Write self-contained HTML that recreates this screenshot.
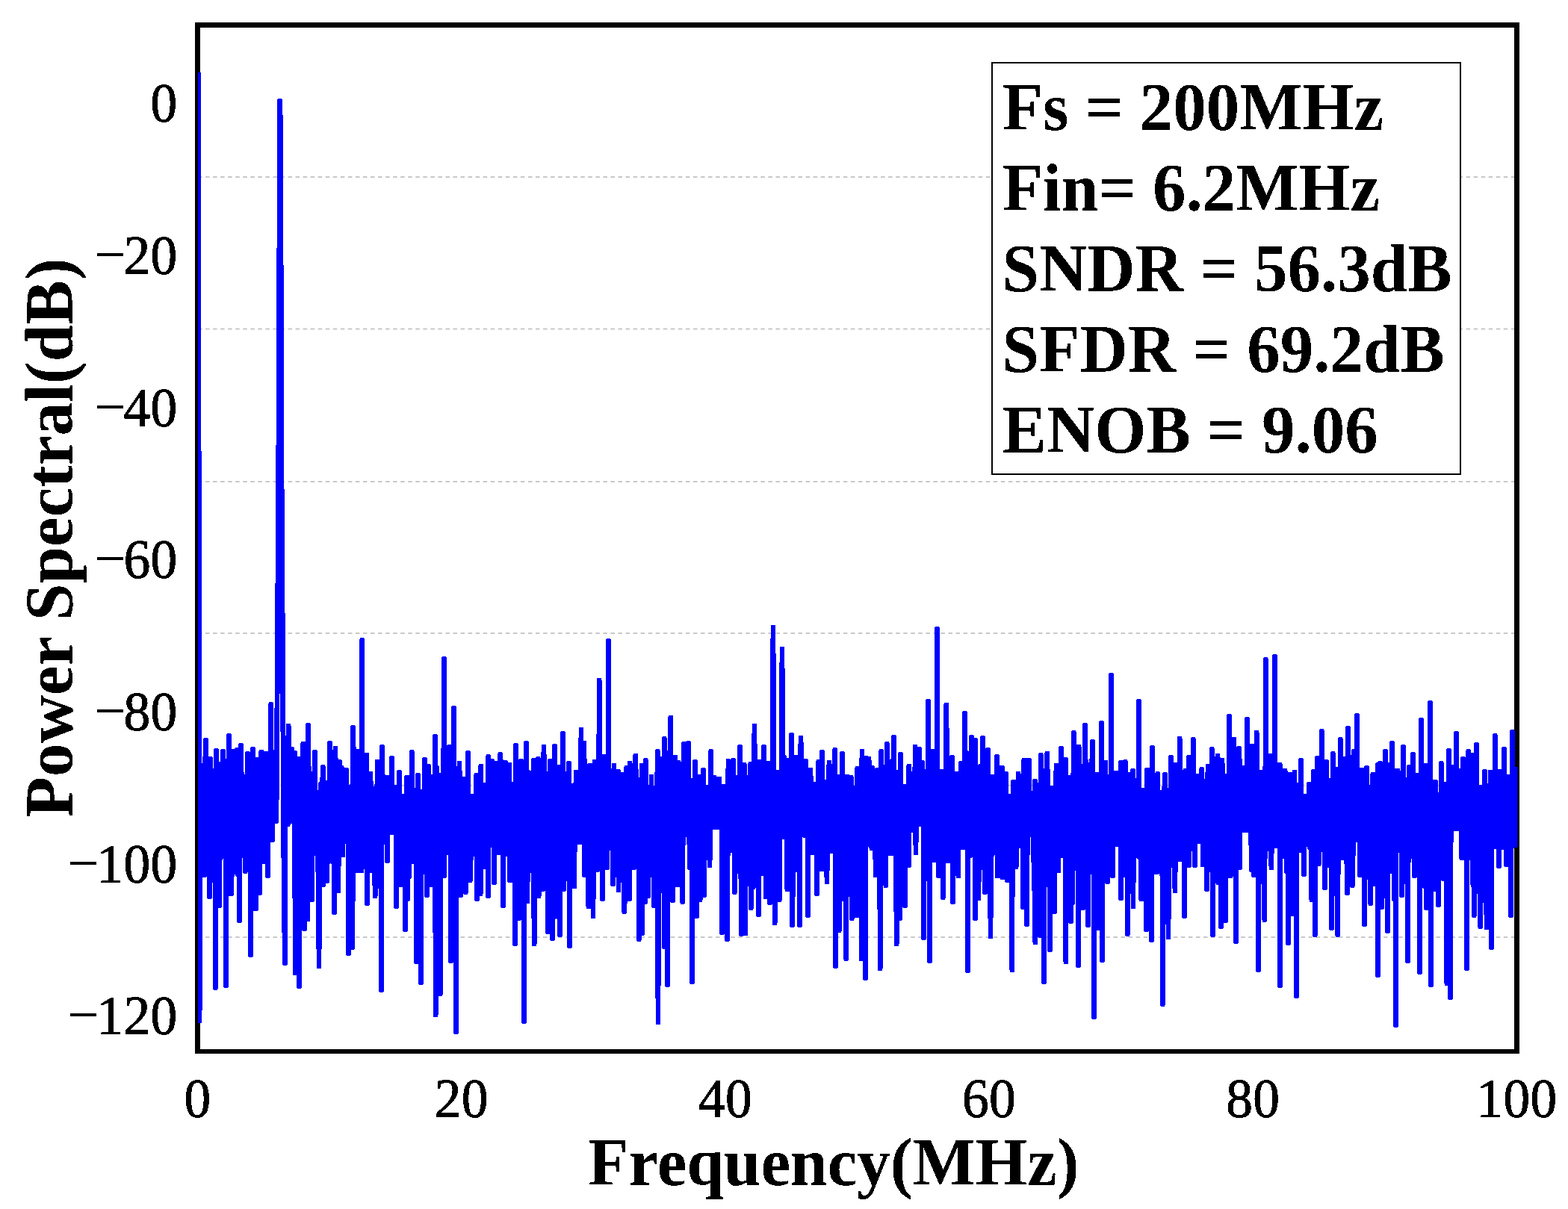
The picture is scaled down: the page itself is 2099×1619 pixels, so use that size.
<!DOCTYPE html>
<html lang="en"><head><meta charset="utf-8"><title>Power Spectral</title>
<style>html,body{margin:0;padding:0;background:#fff}svg{display:block}.b{font-family:"Liberation Serif",serif;font-weight:bold;font-size:89.2px;fill:#000}.t{font-family:"Liberation Serif",serif;font-size:71.5px;fill:#000;stroke:#000;stroke-width:1.0}</style></head><body>
<svg width="2099" height="1619" viewBox="0 0 2099 1619">
<rect width="2099" height="1619" fill="#fff"/>
<defs><clipPath id="ax"><rect x="265" y="33.5" width="1766.3" height="1374.5"/></clipPath><filter id="bin" x="-5%" y="-20%" width="110%" height="140%" color-interpolation-filters="sRGB"><feComponentTransfer><feFuncA type="discrete" tableValues="0 1"/></feComponentTransfer></filter></defs>
<g stroke="#c8c8c8" stroke-width="1.9" stroke-dasharray="5.55 4.495">
<line x1="264.95" x2="2030" y1="237" y2="237"/>
<line x1="264.95" x2="2030" y1="440.5" y2="440.5"/>
<line x1="264.95" x2="2030" y1="645" y2="645"/>
<line x1="264.95" x2="2030" y1="848" y2="848"/>
<line x1="264.95" x2="2030" y1="1051.7" y2="1051.7"/>
<line x1="264.95" x2="2030" y1="1255" y2="1255"/>
</g>
<g fill="#000" shape-rendering="crispEdges"><rect x="261" y="30" width="7" height="1381"/><rect x="2027" y="30" width="7" height="1381"/><rect x="261" y="30" width="1773" height="7"/><rect x="261" y="1405" width="1773" height="6"/></g>
<polyline clip-path="url(#ax)" fill="none" stroke="#0000ff" stroke-width="6.90" stroke-linejoin="round" stroke-linecap="butt" shape-rendering="crispEdges" points="265.3,97 266.2,700 267.0,1367 267.6,1250 267.9,1180 267.9,1113 268.4,1078 268.8,1056 269.2,1040 269.7,1094 270.1,1129 270.5,1110 271.0,1025 271.4,1125 271.8,1084 272.3,1025 272.7,1129 273.1,1066 273.6,1172 274.0,1121 274.4,1072 274.8,1025 275.3,991 275.7,1075 276.1,1047 276.6,1057 277.0,1082 277.4,1127 277.9,1079 278.3,1096 278.7,1081 279.2,1097 279.6,1035 280.0,1045 280.5,1201 280.9,1069 281.3,1016 281.7,1084 282.2,1099 282.6,1059 283.0,1096 283.5,1083 283.9,1051 284.3,1090 284.8,1032 285.2,1133 285.6,1049 286.1,1088 286.5,1088 286.9,1062 287.4,1075 287.8,1089 288.2,1323 288.6,1165 289.1,1052 289.5,1005 289.9,1054 290.4,1023 290.8,1056 291.2,1190 291.7,1106 292.1,1067 292.5,1120 293.0,1023 293.4,1213 293.8,1034 294.2,1082 294.7,1035 295.1,1149 295.5,1106 296.0,1083 296.4,1048 296.8,1080 297.3,1147 297.7,1100 298.1,1103 298.6,1006 299.0,1137 299.4,1089 299.9,1085 300.3,1044 300.7,1041 301.1,1075 301.6,1083 302.0,1044 302.4,1320 302.9,1057 303.3,1041 303.7,1019 304.2,1197 304.6,1029 305.0,1112 305.5,1081 305.9,1041 306.3,985 306.8,1143 307.2,1059 307.6,1178 308.0,1098 308.5,1039 308.9,1088 309.3,1066 309.8,1197 310.2,1038 310.6,1046 311.1,1171 311.5,1089 311.9,1083 312.4,1006 312.8,1073 313.2,1065 313.7,1037 314.1,1016 314.5,1150 314.9,1121 315.4,1059 315.8,1148 316.2,1123 316.7,1069 317.1,1136 317.5,1004 318.0,1032 318.4,1171 318.8,1074 319.3,1041 319.7,1004 320.1,1112 320.5,1233 321.0,1029 321.4,1023 321.8,1129 322.3,998 322.7,1051 323.1,1034 323.6,1137 324.0,1058 324.4,1040 324.9,1072 325.3,1138 325.7,1146 326.2,1111 326.6,1040 327.0,1146 327.4,1146 327.9,1097 328.3,1167 328.7,1142 329.2,1148 329.6,1075 330.0,1054 330.5,1088 330.9,1147 331.3,1009 331.8,1067 332.2,1031 332.6,1031 333.1,1119 333.5,1148 333.9,1036 334.3,1031 334.8,1083 335.2,1045 335.6,1279 336.1,1065 336.5,1031 336.9,1217 337.4,1113 337.8,1112 338.2,1153 338.7,1003 339.1,1216 339.5,1057 340.0,1177 340.4,1097 340.8,1089 341.2,1133 341.7,1075 342.1,1074 342.5,1217 343.0,1049 343.4,1139 343.8,1017 344.3,1098 344.7,1095 345.1,1127 345.6,1021 346.0,1037 346.4,1158 346.9,1096 347.3,1121 347.7,1196 348.1,1112 348.6,1078 349.0,1020 349.4,1094 349.9,1007 350.3,1066 350.7,1047 351.2,1154 351.6,1048 352.0,1014 352.5,1154 352.9,1110 353.3,1057 353.7,1052 354.2,1059 354.6,1143 355.0,1009 355.5,1012 355.9,1009 356.3,1066 356.8,1154 357.2,1009 357.6,1038 358.1,1061 358.5,1173 358.9,1125 359.4,1106 359.8,1118 360.2,1066 360.6,1125 361.1,1026 361.5,1083 361.9,1085 362.4,1125 362.8,943 363.2,1038 363.7,1062 364.1,1119 364.5,1125 365.0,1100 365.4,1037 365.8,1068 366.3,1100 366.7,1076 367.1,1068 367.5,1100 368.0,1068 368.4,1089 368.8,1068 369.3,1068 369.7,1100 370.1,1068 370.3,1063 371.2,907 372.0,775 372.9,615 373.8,385 374.6,135 375.5,172 376.4,465 377.2,695 378.6,900 379.5,1100 380.4,1195 381.4,1290 381.8,1104 381.9,1200 382.2,1007 382.6,1091 383.1,1104 383.5,1104 383.9,1025 384.4,1104 384.8,1044 385.2,1104 385.7,1010 386.1,972 386.5,1100 386.9,1018 387.4,1098 387.8,1050 388.2,1075 388.7,1100 389.1,1100 389.5,1100 390.0,1100 390.4,1003 390.8,1100 391.3,1014 391.7,1100 392.1,1077 392.6,1100 393.0,1100 393.4,1046 393.8,1017 394.3,1082 394.7,1008 395.1,1303 395.6,1195 396.0,1093 396.4,1073 396.9,1027 397.3,1038 397.7,1065 398.2,1092 398.6,1036 399.0,1030 399.5,1030 399.9,1016 400.3,1162 400.7,1321 401.2,1080 401.6,1077 402.0,1036 402.5,1119 402.9,1058 403.3,1095 403.8,1044 404.2,1129 404.6,1081 405.1,1160 405.5,1125 405.9,996 406.3,1105 406.8,1026 407.2,1075 407.6,1244 408.1,1042 408.5,1191 408.9,1037 409.4,1231 409.8,1057 410.2,1137 410.7,1100 411.1,1013 411.5,1080 412.0,1231 412.4,971 412.8,1157 413.2,1035 413.7,1028 414.1,1141 414.5,1072 415.0,1110 415.4,1049 415.8,1205 416.3,1076 416.7,1042 417.1,1049 417.6,1205 418.0,1036 418.4,1119 418.9,1040 419.3,1078 419.7,1139 420.1,1049 420.6,1040 421.0,1054 421.4,1007 421.9,1116 422.3,1120 422.7,1143 423.2,1073 423.6,1092 424.0,1098 424.5,1083 424.9,1112 425.3,1166 425.8,1082 426.2,1112 426.6,1085 427.0,1294 427.5,1134 427.9,1061 428.3,1060 428.8,1111 429.2,1082 429.6,1050 430.1,1100 430.5,1052 430.9,1050 431.4,1097 431.8,1050 432.2,1027 432.6,1185 433.1,1052 433.5,1088 433.9,1052 434.4,1112 434.8,1048 435.2,1073 435.7,1119 436.1,1086 436.5,1048 437.0,1048 437.4,1180 437.8,1099 438.3,1095 438.7,1048 439.1,1154 439.5,1048 440.0,1048 440.4,1122 440.8,1099 441.3,995 441.7,1040 442.1,1018 442.6,1018 443.0,1111 443.4,1130 443.9,1080 444.3,1071 444.7,1059 445.2,1154 445.6,1060 446.0,1021 446.4,1022 446.9,1018 447.3,1222 447.7,1018 448.2,1193 448.6,1022 449.0,1002 449.5,1104 449.9,1083 450.3,1020 450.8,1065 451.2,1099 451.6,1095 452.1,1024 452.5,1038 452.9,1193 453.3,1117 453.8,1096 454.2,1124 454.6,1020 455.1,1123 455.5,1069 455.9,1028 456.4,1034 456.8,1145 457.2,1028 457.7,1090 458.1,1060 458.5,1094 458.9,1145 459.4,1100 459.8,1121 460.2,1032 460.7,1054 461.1,1090 461.5,1054 462.0,1076 462.4,1075 462.8,1096 463.3,1080 463.7,1031 464.1,1054 464.6,1054 465.0,1121 465.4,1078 465.8,1096 466.3,1121 466.7,1277 467.1,1175 467.6,1120 468.0,1054 468.4,1055 468.9,1054 469.3,1172 469.7,1138 470.2,1231 470.6,1163 471.0,1161 471.5,1054 471.9,1269 472.3,1127 472.7,974 473.2,1010 473.6,1069 474.0,1096 474.5,1082 474.9,1113 475.3,1068 475.8,1051 476.2,1076 476.6,1038 477.1,1156 477.5,1065 477.9,1006 478.4,1143 478.8,1166 479.2,1062 479.6,1101 480.1,1008 480.5,1080 480.9,1081 481.4,1024 481.8,1166 482.2,1031 482.7,1149 483.1,1095 483.5,1080 484.0,1166 484.4,1151 484.8,857 485.2,1098 485.7,1011 486.1,1022 486.5,1068 487.0,1018 487.4,1031 487.8,1095 488.3,1151 488.7,1065 489.1,1103 489.6,1151 490.0,1011 490.4,1011 490.9,1011 491.3,1210 491.7,1057 492.1,1036 492.6,1082 493.0,1068 493.4,1122 493.9,1119 494.3,1075 494.7,1121 495.2,1166 495.6,1096 496.0,1036 496.5,1112 496.9,1056 497.3,1056 497.8,1059 498.2,1056 498.6,1166 499.0,1134 499.5,1056 499.9,1056 500.3,1166 500.8,1056 501.2,1166 501.6,1147 502.1,1200 502.5,1109 502.9,1093 503.4,1056 503.8,1086 504.2,1151 504.7,1113 505.1,1020 505.5,1178 505.9,1087 506.4,1077 506.8,1117 507.2,1095 507.7,1160 508.1,1059 508.5,1093 509.0,1139 509.4,1078 509.8,1126 510.3,1326 510.7,1128 511.1,1043 511.6,1000 512.0,1041 512.4,1091 512.8,1128 513.3,1053 513.7,1049 514.1,1041 514.6,1128 515.0,1042 515.4,1041 515.9,1107 516.3,1084 516.7,1063 517.2,1118 517.6,1041 518.0,1041 518.4,1153 518.9,1085 519.3,1076 519.7,1115 520.2,1105 520.6,1050 521.0,1041 521.5,1115 521.9,1115 522.3,1115 522.8,1087 523.2,1042 523.6,1115 524.1,1081 524.5,1015 524.9,1054 525.3,1115 525.8,1115 526.2,1077 526.6,1098 527.1,1109 527.5,1054 527.9,1056 528.4,1115 528.8,1072 529.2,1054 529.7,1054 530.1,1115 530.5,1214 531.0,1185 531.4,1056 531.8,1066 532.2,1054 532.7,1062 533.1,1178 533.5,1057 534.0,1116 534.4,1034 534.8,1185 535.3,1103 535.7,1066 536.1,1140 536.6,1185 537.0,1066 537.4,1066 537.9,1066 538.3,1090 538.7,1145 539.1,1115 539.6,1093 540.0,1185 540.4,1066 540.9,1183 541.3,1185 541.7,1066 542.2,1066 542.6,1245 543.0,1100 543.5,1066 543.9,1066 544.3,1114 544.7,1041 545.2,1041 545.6,1204 546.0,1041 546.5,1070 546.9,1133 547.3,1041 547.8,1174 548.2,1090 548.6,1069 549.1,1118 549.5,1041 549.9,1054 550.4,1139 550.8,1141 551.2,1007 551.6,1069 552.1,1131 552.5,1073 552.9,1058 553.4,1058 553.8,1154 554.2,1102 554.7,1089 555.1,1094 555.5,1089 556.0,1083 556.4,1058 556.8,1106 557.3,1100 557.7,1288 558.1,1142 558.5,1062 559.0,1092 559.4,1038 559.8,1060 560.3,1121 560.7,1119 561.1,1060 561.6,1071 562.0,1264 562.4,1062 562.9,1092 563.3,1060 563.7,1316 564.2,1060 564.6,1060 565.0,1060 565.4,1110 565.9,1101 566.3,1168 566.7,1060 567.2,1141 567.6,1072 568.0,1077 568.5,1017 568.9,1093 569.3,1145 569.8,1094 570.2,1168 570.6,1107 571.0,1062 571.5,1199 571.9,1026 572.3,1074 572.8,1107 573.2,1036 573.6,1026 574.1,1104 574.5,1040 574.9,1119 575.4,1050 575.8,1171 576.2,1185 576.7,1059 577.1,1126 577.5,1103 577.9,1072 578.4,1067 578.8,1141 579.2,1090 579.7,1040 580.1,1104 580.5,1043 581.0,1128 581.4,1083 581.8,1076 582.3,986 582.7,1051 583.1,1359 583.6,1054 584.0,1040 584.4,1028 584.8,1103 585.3,1037 585.7,1076 586.1,1115 586.6,1135 587.0,1046 587.4,1061 587.9,1177 588.3,1067 588.7,1198 589.2,1331 589.6,1069 590.0,1060 590.5,1140 590.9,1173 591.3,1069 591.7,1038 592.2,1041 592.6,1098 593.0,1069 593.5,1051 593.9,1030 594.3,882 594.8,1173 595.2,1104 595.6,1124 596.1,1108 596.5,1050 596.9,1028 597.3,1082 597.8,1054 598.2,1142 598.6,1077 599.1,1087 599.5,1087 599.9,1131 600.4,1063 600.8,1057 601.2,1000 601.7,1048 602.1,1084 602.5,1033 603.0,1069 603.4,1287 603.8,1090 604.2,1054 604.7,1129 605.1,1170 605.5,1018 606.0,1096 606.4,1197 606.8,1063 607.3,948 607.7,1045 608.1,1039 608.6,1039 609.0,1084 609.4,1120 609.9,1181 610.3,1382 610.7,1062 611.1,1039 611.6,1199 612.0,1039 612.4,1046 612.9,1055 613.3,1150 613.7,1190 614.2,1049 614.6,1061 615.0,1022 615.5,1100 615.9,1199 616.3,1043 616.8,1199 617.2,1043 617.6,1043 618.0,1083 618.5,1043 618.9,1129 619.3,1057 619.8,1120 620.2,1093 620.6,1043 621.1,1088 621.5,1043 621.9,1066 622.4,1109 622.8,1115 623.2,1195 623.6,1069 624.1,1043 624.5,1122 624.9,1081 625.4,1043 625.8,1093 626.2,1043 626.7,1008 627.1,1079 627.5,1066 628.0,1179 628.4,1076 628.8,1066 629.3,1179 629.7,1152 630.1,1152 630.5,1139 631.0,1120 631.4,1066 631.8,1083 632.3,1074 632.7,1105 633.1,1108 633.6,1071 634.0,1066 634.4,1133 634.9,1087 635.3,1066 635.7,1066 636.2,1113 636.6,1093 637.0,1069 637.4,1145 637.9,1038 638.3,1204 638.7,1112 639.2,1081 639.6,1154 640.0,1076 640.5,1038 640.9,1073 641.3,1125 641.8,1106 642.2,1063 642.6,1038 643.1,1197 643.5,1079 643.9,1026 644.3,1159 644.8,1051 645.2,1083 645.6,1102 646.1,1051 646.5,1116 646.9,1143 647.4,1115 647.8,1057 648.2,1161 648.7,1084 649.1,1120 649.5,1072 650.0,1146 650.4,1051 650.8,1051 651.2,1104 651.7,1098 652.1,1066 652.5,1051 653.0,1170 653.4,1200 653.8,1013 654.3,1042 654.7,1086 655.1,1038 655.6,1072 656.0,1132 656.4,1110 656.8,1067 657.3,1071 657.7,1041 658.1,1052 658.6,1125 659.0,1019 659.4,1044 659.9,1084 660.3,1122 660.7,1022 661.2,1085 661.6,1182 662.0,1077 662.5,1107 662.9,1113 663.3,1058 663.7,1041 664.2,1022 664.6,1139 665.0,1081 665.5,1091 665.9,1087 666.3,1119 666.8,1045 667.2,1128 667.6,1142 668.1,1054 668.5,1048 668.9,1119 669.4,1135 669.8,1010 670.2,1021 670.6,1116 671.1,1073 671.5,1114 671.9,1048 672.4,1082 672.8,1095 673.2,1059 673.7,1213 674.1,1128 674.5,1089 675.0,1021 675.4,1041 675.8,1077 676.3,1021 676.7,1144 677.1,1090 677.5,1026 678.0,1131 678.4,1024 678.8,1034 679.3,1055 679.7,1095 680.1,1144 680.6,1108 681.0,1049 681.4,1088 681.9,1024 682.3,1124 682.7,1179 683.1,1050 683.6,1051 684.0,1127 684.4,1123 684.9,1179 685.3,1179 685.7,1050 686.2,1079 686.6,1050 687.0,1111 687.5,1100 687.9,1050 688.3,1050 688.8,1161 689.2,1050 689.6,1264 690.0,1230 690.5,998 690.9,1111 691.3,1099 691.8,1019 692.2,1048 692.6,1189 693.1,1056 693.5,1230 693.9,1028 694.4,1230 694.8,1062 695.2,1216 695.7,1170 696.1,1075 696.5,1094 696.9,1038 697.4,1019 697.8,1092 698.2,1153 698.7,1078 699.1,1040 699.5,1114 700.0,1042 700.4,1138 700.8,1040 701.3,1368 701.7,1151 702.1,1043 702.6,1040 703.0,1144 703.4,1154 703.8,1117 704.3,1076 704.7,995 705.1,1035 705.6,1103 706.0,1207 706.4,1066 706.9,1069 707.3,1119 707.7,1065 708.2,1035 708.6,1144 709.0,1105 709.4,1035 709.9,1139 710.3,1149 710.7,1136 711.2,1045 711.6,1150 712.0,1166 712.5,1062 712.9,1045 713.3,1047 713.8,1087 714.2,1018 714.6,1142 715.1,1264 715.5,1096 715.9,1072 716.3,1130 716.8,1143 717.2,1018 717.6,1107 718.1,1078 718.5,1022 718.9,1107 719.4,1097 719.8,1070 720.2,1016 720.7,1200 721.1,1200 721.5,1096 722.0,1172 722.4,1110 722.8,1054 723.2,1046 723.7,1077 724.1,1123 724.5,1035 725.0,1126 725.4,1047 725.8,1141 726.3,1191 726.7,1044 727.1,1078 727.6,1087 728.0,1000 728.4,1058 728.9,1071 729.3,1054 729.7,1167 730.1,1089 730.6,1047 731.0,1086 731.4,1036 731.9,1074 732.3,1106 732.7,1036 733.2,1248 733.6,1072 734.0,1061 734.5,1036 734.9,1126 735.3,1036 735.7,1069 736.2,1019 736.6,1101 737.0,1019 737.5,1019 737.9,1072 738.3,1100 738.8,1019 739.2,1243 739.6,1257 740.1,1080 740.5,1067 740.9,1228 741.4,1131 741.8,1168 742.2,1117 742.6,999 743.1,1151 743.5,1149 743.9,1096 744.4,1150 744.8,1044 745.2,1091 745.7,1154 746.1,1060 746.5,1042 747.0,1098 747.4,1228 747.8,1060 748.3,1047 748.7,1027 749.1,1052 749.5,1252 750.0,1100 750.4,1118 750.8,1181 751.3,1038 751.7,1071 752.1,1110 752.6,1151 753.0,1110 753.4,982 753.9,1124 754.3,1191 754.7,1094 755.2,1101 755.6,1054 756.0,1071 756.4,1082 756.9,1036 757.3,1036 757.7,1150 758.2,1117 758.6,1089 759.0,1177 759.5,1046 759.9,1045 760.3,1109 760.8,1036 761.2,1071 761.6,1022 762.0,1063 762.5,1267 762.9,1052 763.3,1052 763.8,1052 764.2,1090 764.6,1087 765.1,1187 765.5,1089 765.9,1134 766.4,1153 766.8,1052 767.2,1187 767.7,1149 768.1,1058 768.5,1070 768.9,1187 769.4,1052 769.8,1119 770.2,1127 770.7,1076 771.1,1034 771.5,1055 772.0,1034 772.4,1039 772.8,1034 773.3,1128 773.7,1088 774.1,1034 774.6,1035 775.0,1066 775.4,1059 775.8,1114 776.3,1114 776.7,1128 777.1,1034 777.6,1109 778.0,977 778.4,1128 778.9,1041 779.3,1075 779.7,1128 780.2,1058 780.6,1053 781.0,1054 781.5,1054 781.9,995 782.3,1048 782.7,1172 783.2,1048 783.6,1080 784.0,1113 784.5,1048 784.9,1111 785.3,1086 785.8,1054 786.2,1048 786.6,1105 787.1,1172 787.5,1068 787.9,1214 788.4,1050 788.8,1115 789.2,1048 789.6,1025 790.1,1032 790.5,1047 790.9,1057 791.4,1071 791.8,1032 792.2,1122 792.7,1058 793.1,1042 793.5,1044 794.0,1227 794.4,1105 794.8,1025 795.2,1044 795.7,1141 796.1,1020 796.5,1039 797.0,1032 797.4,1076 797.8,1161 798.3,1124 798.7,1165 799.1,1137 799.6,1165 800.0,1054 800.4,1054 800.9,1086 801.3,1028 801.7,1143 802.1,911 802.6,1064 803.0,1075 803.4,1152 803.9,1024 804.3,1063 804.7,1065 805.2,1096 805.6,1065 806.0,1165 806.5,1204 806.9,1062 807.3,1066 807.8,1075 808.2,1162 808.6,1104 809.0,1013 809.5,1015 809.9,1038 810.3,1162 810.8,1162 811.2,1125 811.6,1037 812.1,1127 812.5,1122 812.9,1162 813.4,1050 813.8,1075 814.2,1032 814.7,858 815.1,1136 815.5,1046 815.9,1136 816.4,1052 816.8,1065 817.2,1126 817.7,1115 818.1,1049 818.5,1136 819.0,1046 819.4,1136 819.8,1136 820.3,1061 820.7,1184 821.1,1046 821.5,1087 822.0,1025 822.4,1138 822.8,1073 823.3,1033 823.7,1116 824.1,1092 824.6,1069 825.0,1060 825.4,1051 825.9,1103 826.3,1096 826.7,1033 827.2,1033 827.6,1033 828.0,1192 828.4,1135 828.9,1038 829.3,1037 829.7,1070 830.2,1055 830.6,1173 831.0,1037 831.5,1056 831.9,1068 832.3,1068 832.8,1037 833.2,1037 833.6,1074 834.1,1065 834.5,1136 834.9,1062 835.3,1119 835.8,1221 836.2,1204 836.6,1151 837.1,1125 837.5,1091 837.9,1037 838.4,1204 838.8,1028 839.2,1204 839.7,1095 840.1,1108 840.5,1138 841.0,1081 841.4,1100 841.8,1115 842.2,1064 842.7,1204 843.1,1022 843.5,1117 844.0,1036 844.4,1139 844.8,1036 845.3,1162 845.7,1162 846.1,1162 846.6,1053 847.0,1121 847.4,1112 847.8,1057 848.3,1162 848.7,1073 849.1,1092 849.6,1139 850.0,1036 850.4,1097 850.9,1012 851.3,1054 851.7,1044 852.2,1122 852.6,1150 853.0,1044 853.5,1088 853.9,1074 854.3,1084 854.7,1044 855.2,1258 855.6,1047 856.0,1075 856.5,1172 856.9,1077 857.3,1044 857.8,1074 858.2,1093 858.6,1223 859.1,1025 859.5,1250 859.9,1103 860.4,1096 860.8,1089 861.2,1101 861.6,1109 862.1,1083 862.5,1196 862.9,1122 863.4,1208 863.8,1028 864.2,1018 864.7,1071 865.1,1062 865.5,1062 866.0,1062 866.4,1063 866.8,1066 867.3,1131 867.7,1200 868.1,1172 868.5,1164 869.0,1064 869.4,1065 869.8,1172 870.3,1062 870.7,1086 871.1,1073 871.6,1172 872.0,1040 872.4,1172 872.9,1126 873.3,1083 873.7,1078 874.1,1074 874.6,1055 875.0,1172 875.4,1213 875.9,1087 876.3,1055 876.7,1058 877.2,1055 877.6,1055 878.0,1055 878.5,1148 878.9,1073 879.3,1055 879.8,1055 880.2,1006 880.6,1089 881.0,1369 881.5,1050 881.9,1111 882.3,1059 882.8,1194 883.2,1098 883.6,1062 884.1,1151 884.5,1104 884.9,1016 885.4,1027 885.8,1044 886.2,1061 886.7,1076 887.1,1016 887.5,1115 887.9,1053 888.4,1168 888.8,1063 889.2,989 889.7,1268 890.1,1023 890.5,1111 891.0,1008 891.4,1056 891.8,1057 892.3,1057 892.7,1008 893.1,1122 893.6,1319 894.0,1104 894.4,1164 894.8,1020 895.3,1163 895.7,1081 896.1,1036 896.6,1112 897.0,1051 897.4,1061 897.9,961 898.3,1142 898.7,1053 899.2,1035 899.6,1145 900.0,1014 900.4,1206 900.9,1104 901.3,1014 901.7,1017 902.2,1154 902.6,1048 903.0,1014 903.5,1037 903.9,1014 904.3,1090 904.8,1070 905.2,1096 905.6,1094 906.1,1163 906.5,1185 906.9,1106 907.3,1185 907.8,1068 908.2,1021 908.6,1167 909.1,1100 909.5,1035 909.9,1037 910.4,1156 910.8,1057 911.2,1167 911.7,1035 912.1,1115 912.5,1065 913.0,1082 913.4,1077 913.8,1208 914.2,1098 914.7,1111 915.1,1064 915.5,996 916.0,1067 916.4,1073 916.8,1058 917.3,1004 917.7,1074 918.1,1072 918.6,1064 919.0,1072 919.4,1090 919.9,1118 920.3,1073 920.7,1118 921.1,1059 921.6,995 922.0,1045 922.4,1045 922.9,1125 923.3,1162 923.7,1127 924.2,1069 924.6,1151 925.0,1161 925.5,1045 925.9,1098 926.3,1315 926.8,1077 927.2,1054 927.6,1083 928.0,1149 928.5,1076 928.9,1178 929.3,1050 929.8,1045 930.2,1201 930.6,1020 931.1,1040 931.5,1061 931.9,1143 932.4,1227 932.8,1084 933.2,1195 933.6,1040 934.1,1076 934.5,1105 934.9,1045 935.4,1040 935.8,1076 936.2,1077 936.7,1160 937.1,1205 937.5,1054 938.0,1128 938.4,1087 938.8,1106 939.3,1040 939.7,1058 940.1,1040 940.5,1045 941.0,1042 941.4,1031 941.8,1054 942.3,1199 942.7,1054 943.1,1054 943.6,1077 944.0,1128 944.4,1066 944.9,1063 945.3,1055 945.7,1128 946.2,1117 946.6,1070 947.0,1054 947.4,1121 947.9,1054 948.3,1054 948.7,1128 949.2,1054 949.6,1092 950.0,1159 950.5,1108 950.9,1097 951.3,1108 951.8,1006 952.2,1084 952.6,1100 953.1,1041 953.5,1041 953.9,1083 954.3,1106 954.8,1065 955.2,1091 955.6,1041 956.1,1041 956.5,1108 956.9,1108 957.4,1108 957.8,1108 958.2,1043 958.7,1056 959.1,1068 959.5,1043 959.9,1064 960.4,1053 960.8,1108 961.2,1108 961.7,1064 962.1,1043 962.5,1108 963.0,1043 963.4,1108 963.8,1108 964.3,1069 964.7,1053 965.1,1053 965.6,1070 966.0,1108 966.4,1249 966.8,1059 967.3,1053 967.7,1143 968.1,1053 968.6,1053 969.0,1166 969.4,1053 969.9,1053 970.3,1053 970.7,1057 971.2,1056 971.6,1053 972.0,1053 972.5,1090 972.9,1094 973.3,1053 973.7,1258 974.2,1095 974.6,1144 975.0,1019 975.5,1068 975.9,1130 976.3,1088 976.8,1065 977.2,1094 977.6,1047 978.1,1076 978.5,1103 978.9,1051 979.4,1071 979.8,1084 980.2,1139 980.6,1019 981.1,1135 981.5,1018 981.9,1067 982.4,1041 982.8,1107 983.2,1195 983.7,1053 984.1,1041 984.5,1084 985.0,1041 985.4,1104 985.8,1041 986.2,1167 986.7,1056 987.1,1041 987.5,1111 988.0,1041 988.4,1066 988.8,1104 989.3,1167 989.7,1058 990.1,1095 990.6,1000 991.0,1129 991.4,1167 991.9,1163 992.3,1251 992.7,1150 993.1,1108 993.6,1067 994.0,1112 994.4,1082 994.9,1090 995.3,1044 995.7,1091 996.2,1024 996.6,1041 997.0,1135 997.5,1061 997.9,1250 998.3,1099 998.8,1048 999.2,1047 999.6,1081 1000.0,1103 1000.5,1156 1000.9,1041 1001.3,1041 1001.8,1111 1002.2,1104 1002.6,1060 1003.1,1044 1003.5,1041 1003.9,1045 1004.4,1056 1004.8,1023 1005.2,1216 1005.7,1079 1006.1,1053 1006.5,1107 1006.9,1118 1007.4,1090 1007.8,1073 1008.2,1188 1008.7,1047 1009.1,1053 1009.5,1122 1010.0,972 1010.4,1135 1010.8,1090 1011.3,1020 1011.7,1093 1012.1,1020 1012.5,1133 1013.0,1119 1013.4,1077 1013.8,1142 1014.3,1156 1014.7,1057 1015.1,1100 1015.6,1225 1016.0,1122 1016.4,1107 1016.9,1020 1017.3,1068 1017.7,1152 1018.2,1089 1018.6,1161 1019.0,1170 1019.4,1070 1019.9,1156 1020.3,1125 1020.7,1170 1021.2,1156 1021.6,1085 1022.0,1137 1022.5,1000 1022.9,1087 1023.3,1130 1023.8,1147 1024.2,1143 1024.6,1022 1025.1,1201 1025.5,1084 1025.9,1047 1026.3,1043 1026.8,1054 1027.2,1026 1027.6,1074 1028.1,1137 1028.5,1022 1028.9,1084 1029.4,1037 1029.8,1118 1030.2,1209 1030.7,1209 1031.1,1094 1031.5,1100 1032.0,1164 1032.4,1038 1032.8,1037 1033.2,1117 1033.7,1052 1034.1,1025 1034.5,1068 1035.0,840 1035.4,1056 1035.8,1092 1036.3,1069 1036.7,1058 1037.1,1236 1037.6,1058 1038.0,1077 1038.4,1067 1038.8,1109 1039.3,1048 1039.7,1142 1040.1,1081 1040.6,1074 1041.0,1205 1041.4,1034 1041.9,1071 1042.3,1172 1042.7,1034 1043.2,1205 1043.6,1034 1044.0,1056 1044.5,1078 1044.9,1042 1045.3,1098 1045.7,1087 1046.2,1098 1046.6,1103 1047.0,869 1047.5,1077 1047.9,1077 1048.3,1095 1048.8,1103 1049.2,1121 1049.6,1014 1050.1,1050 1050.5,1081 1050.9,1066 1051.4,1035 1051.8,1096 1052.2,1111 1052.6,1081 1053.1,1083 1053.5,1036 1053.9,1191 1054.4,1032 1054.8,1054 1055.2,1075 1055.7,1135 1056.1,1018 1056.5,1033 1057.0,1075 1057.4,1047 1057.8,1025 1058.3,1107 1058.7,1069 1059.1,1010 1059.5,984 1060.0,1142 1060.4,1239 1060.8,1029 1061.3,1199 1061.7,1068 1062.1,1060 1062.6,1052 1063.0,1064 1063.4,1070 1063.9,1065 1064.3,1063 1064.7,1165 1065.1,1135 1065.6,1014 1066.0,1019 1066.4,1082 1066.9,1064 1067.3,1014 1067.7,1161 1068.2,1130 1068.6,1111 1069.0,1021 1069.5,1051 1069.9,1149 1070.3,1239 1070.8,1136 1071.2,1022 1071.6,1089 1072.0,988 1072.5,1034 1072.9,1019 1073.3,1073 1073.8,1112 1074.2,1076 1074.6,1026 1075.1,1019 1075.5,1092 1075.9,1080 1076.4,1041 1076.8,1092 1077.2,1119 1077.7,1111 1078.1,1081 1078.5,1019 1078.9,1046 1079.4,1058 1079.8,1031 1080.2,1048 1080.7,1084 1081.1,1133 1081.5,1226 1082.0,1031 1082.4,1061 1082.8,1142 1083.3,1078 1083.7,1045 1084.1,1040 1084.6,1035 1085.0,1031 1085.4,1080 1085.8,1058 1086.3,1142 1086.7,1058 1087.1,1142 1087.6,1125 1088.0,1116 1088.4,1053 1088.9,1122 1089.3,1100 1089.7,1095 1090.2,1050 1090.6,1130 1091.0,1050 1091.5,1132 1091.9,1052 1092.3,1142 1092.7,1071 1093.2,1078 1093.6,1197 1094.0,1100 1094.5,1073 1094.9,1164 1095.3,1104 1095.8,1020 1096.2,1145 1096.6,1075 1097.1,1106 1097.5,1164 1097.9,1150 1098.3,1103 1098.8,1058 1099.2,1041 1099.6,1080 1100.1,1164 1100.5,1007 1100.9,1047 1101.4,1164 1101.8,1099 1102.2,1164 1102.7,1068 1103.1,1159 1103.5,1047 1104.0,1091 1104.4,1063 1104.8,1103 1105.2,1101 1105.7,1164 1106.1,1047 1106.5,1113 1107.0,1181 1107.4,1098 1107.8,1132 1108.3,1105 1108.7,1111 1109.1,1047 1109.6,1047 1110.0,1021 1110.4,1035 1110.9,1140 1111.3,1070 1111.7,1034 1112.1,1124 1112.6,1139 1113.0,1042 1113.4,1059 1113.9,1034 1114.3,1139 1114.7,1140 1115.2,1140 1115.6,1103 1116.0,1140 1116.5,1064 1116.9,1140 1117.3,1084 1117.8,1004 1118.2,1140 1118.6,1294 1119.0,1040 1119.5,1093 1119.9,1076 1120.3,1095 1120.8,1040 1121.2,1040 1121.6,1040 1122.1,1094 1122.5,1040 1122.9,1244 1123.4,1246 1123.8,1040 1124.2,1068 1124.6,1085 1125.1,1140 1125.5,1040 1125.9,1204 1126.4,1060 1126.8,1066 1127.2,1050 1127.7,1009 1128.1,1057 1128.5,1071 1129.0,1087 1129.4,1041 1129.8,1148 1130.3,1111 1130.7,1043 1131.1,1040 1131.5,1058 1132.0,1193 1132.4,1040 1132.8,1284 1133.3,1083 1133.7,1093 1134.1,1099 1134.6,1040 1135.0,1136 1135.4,1147 1135.9,1041 1136.3,1078 1136.7,1076 1137.2,1107 1137.6,1198 1138.0,1182 1138.4,1186 1138.9,1053 1139.3,1041 1139.7,1055 1140.2,1230 1140.6,1142 1141.0,1226 1141.5,1056 1141.9,1109 1142.3,1055 1142.8,1080 1143.2,1086 1143.6,1089 1144.1,1106 1144.5,1070 1144.9,1132 1145.3,1055 1145.8,1055 1146.2,1055 1146.6,1055 1147.1,1226 1147.5,1055 1147.9,1029 1148.4,1081 1148.8,1226 1149.2,1076 1149.7,1073 1150.1,1049 1150.5,1031 1150.9,1062 1151.4,1168 1151.8,1165 1152.2,1030 1152.7,1029 1153.1,1284 1153.5,1179 1154.0,1006 1154.4,1155 1154.8,1022 1155.3,1091 1155.7,1083 1156.1,1038 1156.6,1118 1157.0,1074 1157.4,1068 1157.8,1089 1158.3,1310 1158.7,1088 1159.1,1015 1159.6,1104 1160.0,1092 1160.4,1131 1160.9,1016 1161.3,1055 1161.7,1018 1162.2,1018 1162.6,1110 1163.0,1016 1163.5,1028 1163.9,1077 1164.3,1056 1164.7,1031 1165.2,1101 1165.6,1067 1166.0,1108 1166.5,1125 1166.9,1136 1167.3,1120 1167.8,1028 1168.2,1048 1168.6,1076 1169.1,1044 1169.5,1110 1169.9,1125 1170.4,1068 1170.8,1113 1171.2,1047 1171.6,1094 1172.1,1172 1172.5,1047 1172.9,1131 1173.4,1051 1173.8,1093 1174.2,1169 1174.7,1031 1175.1,1065 1175.5,1161 1176.0,1083 1176.4,1083 1176.8,1052 1177.2,1129 1177.7,1071 1178.1,1297 1178.5,1166 1179.0,1052 1179.4,1099 1179.8,1006 1180.3,1111 1180.7,1083 1181.1,1079 1181.6,1028 1182.0,1030 1182.4,1028 1182.9,1028 1183.3,1092 1183.7,1043 1184.1,1028 1184.6,1154 1185.0,1050 1185.4,1069 1185.9,1186 1186.3,1062 1186.7,1055 1187.2,996 1187.6,1143 1188.0,1020 1188.5,1099 1188.9,1041 1189.3,1141 1189.8,1065 1190.2,1143 1190.6,1071 1191.0,1060 1191.5,1093 1191.9,1051 1192.3,1081 1192.8,1143 1193.2,1143 1193.6,1143 1194.1,1101 1194.5,1019 1194.9,1103 1195.4,1039 1195.8,1060 1196.2,1053 1196.7,987 1197.1,1128 1197.5,1034 1197.9,1089 1198.4,1034 1198.8,1143 1199.2,1143 1199.7,1143 1200.1,1264 1200.5,1158 1201.0,1087 1201.4,1076 1201.8,1076 1202.3,1108 1202.7,1034 1203.1,1084 1203.5,1135 1204.0,1071 1204.4,1156 1204.8,1230 1205.3,1135 1205.7,1010 1206.1,1173 1206.6,1106 1207.0,1124 1207.4,1069 1207.9,1091 1208.3,1084 1208.7,1085 1209.2,1064 1209.6,1115 1210.0,1104 1210.4,1115 1210.9,1144 1211.3,1213 1211.7,1053 1212.2,1053 1212.6,1053 1213.0,1157 1213.5,1053 1213.9,1159 1214.3,1053 1214.8,1053 1215.2,1081 1215.6,1053 1216.1,1083 1216.5,1159 1216.9,1026 1217.3,1042 1217.8,1070 1218.2,1078 1218.6,1088 1219.1,1047 1219.5,1112 1219.9,1062 1220.4,1112 1220.8,1112 1221.2,1112 1221.7,1076 1222.1,1042 1222.5,1112 1223.0,1112 1223.4,1075 1223.8,1112 1224.2,1099 1224.7,1085 1225.1,1000 1225.5,1027 1226.0,1142 1226.4,1067 1226.8,1104 1227.3,1007 1227.7,1104 1228.1,1082 1228.6,1104 1229.0,1104 1229.4,1104 1229.9,1094 1230.3,1003 1230.7,1082 1231.1,1070 1231.6,1104 1232.0,1045 1232.4,1104 1232.9,1069 1233.3,1039 1233.7,1064 1234.2,1104 1234.6,1021 1235.0,1104 1235.5,1104 1235.9,1075 1236.3,1033 1236.7,1256 1237.2,1042 1237.6,1113 1238.0,1033 1238.5,1094 1238.9,1129 1239.3,1130 1239.8,1155 1240.2,1171 1240.6,1033 1241.1,1051 1241.5,1144 1241.9,1065 1242.4,939 1242.8,1177 1243.2,1006 1243.6,1120 1244.1,1069 1244.5,1287 1244.9,1080 1245.4,1006 1245.8,1045 1246.2,1119 1246.7,1053 1247.1,1083 1247.5,1119 1248.0,1071 1248.4,1006 1248.8,1039 1249.3,1108 1249.7,1152 1250.1,1031 1250.5,1136 1251.0,1152 1251.4,1031 1251.8,1050 1252.3,1013 1252.7,1113 1253.1,1096 1253.6,1061 1254.0,1152 1254.4,842 1254.9,1058 1255.3,1056 1255.7,1068 1256.2,1173 1256.6,1130 1257.0,1159 1257.4,1116 1257.9,1173 1258.3,1063 1258.7,1133 1259.2,1033 1259.6,1157 1260.0,1104 1260.5,1033 1260.9,1063 1261.3,1090 1261.8,1050 1262.2,1202 1262.6,1140 1263.0,1033 1263.5,1033 1263.9,1049 1264.3,1111 1264.8,1077 1265.2,1153 1265.6,1153 1266.1,1033 1266.5,1089 1266.9,944 1267.4,1042 1267.8,1075 1268.2,1058 1268.7,1153 1269.1,1085 1269.5,1090 1269.9,1108 1270.4,1134 1270.8,1030 1271.2,1048 1271.7,1070 1272.1,1112 1272.5,1062 1273.0,1090 1273.4,1153 1273.8,1063 1274.3,1014 1274.7,1036 1275.1,1037 1275.6,1208 1276.0,1105 1276.4,1145 1276.8,1145 1277.3,1083 1277.7,1126 1278.1,1145 1278.6,1062 1279.0,1036 1279.4,1037 1279.9,1145 1280.3,1036 1280.7,1145 1281.2,1089 1281.6,1036 1282.0,1130 1282.5,1050 1282.9,1173 1283.3,1076 1283.7,1036 1284.2,1106 1284.6,1103 1285.0,1049 1285.5,1135 1285.9,1135 1286.3,1022 1286.8,1092 1287.2,1107 1287.6,1116 1288.1,1029 1288.5,1090 1288.9,1106 1289.3,1043 1289.8,1034 1290.2,1054 1290.6,1022 1291.1,1135 1291.5,955 1291.9,1039 1292.4,1007 1292.8,1129 1293.2,1048 1293.7,1125 1294.1,1092 1294.5,1047 1295.0,1045 1295.4,1300 1295.8,1116 1296.2,1009 1296.7,1070 1297.1,1068 1297.5,1116 1298.0,1085 1298.4,1113 1298.8,1146 1299.3,1110 1299.7,1071 1300.1,1075 1300.6,987 1301.0,1100 1301.4,1086 1301.9,1030 1302.3,1021 1302.7,1025 1303.1,1120 1303.6,1062 1304.0,1045 1304.4,1103 1304.9,1081 1305.3,1230 1305.7,991 1306.2,1050 1306.6,1172 1307.0,1191 1307.5,1055 1307.9,1069 1308.3,1136 1308.8,1203 1309.2,1120 1309.6,1063 1310.0,1203 1310.5,1060 1310.9,1141 1311.3,1060 1311.8,1156 1312.2,1026 1312.6,1116 1313.1,1162 1313.5,1041 1313.9,1104 1314.4,1090 1314.8,1144 1315.2,1127 1315.6,988 1316.1,1109 1316.5,1077 1316.9,1114 1317.4,1086 1317.8,1162 1318.2,1078 1318.7,1195 1319.1,1025 1319.5,1052 1320.0,1172 1320.4,1097 1320.8,1046 1321.3,1051 1321.7,1177 1322.1,1177 1322.5,1004 1323.0,1085 1323.4,1146 1323.8,1114 1324.3,1099 1324.7,1043 1325.1,1115 1325.6,1040 1326.0,1254 1326.4,1118 1326.9,1040 1327.3,1144 1327.7,1094 1328.2,1144 1328.6,1103 1329.0,1040 1329.4,1046 1329.9,1040 1330.3,1102 1330.7,1101 1331.2,1040 1331.6,1138 1332.0,1082 1332.5,1067 1332.9,1059 1333.3,1141 1333.8,1104 1334.2,1143 1334.6,1013 1335.1,1173 1335.5,1038 1335.9,1087 1336.3,1173 1336.8,1028 1337.2,1159 1337.6,1122 1338.1,1173 1338.5,1092 1338.9,1054 1339.4,1028 1339.8,1072 1340.2,1168 1340.7,1028 1341.1,1162 1341.5,1028 1341.9,1175 1342.4,1036 1342.8,1090 1343.2,1036 1343.7,1071 1344.1,1081 1344.5,1043 1345.0,1126 1345.4,1113 1345.8,1036 1346.3,1065 1346.7,1036 1347.1,1066 1347.6,1066 1348.0,1066 1348.4,1179 1348.8,1066 1349.3,1120 1349.7,1080 1350.1,1066 1350.6,1066 1351.0,1179 1351.4,1116 1351.9,1115 1352.3,1103 1352.7,1107 1353.2,1111 1353.6,1082 1354.0,1119 1354.5,1066 1354.9,1299 1355.3,1066 1355.7,1131 1356.2,1047 1356.6,1056 1357.0,1047 1357.5,1087 1357.9,1103 1358.3,1064 1358.8,1129 1359.2,1089 1359.6,1073 1360.1,1161 1360.5,1047 1360.9,1083 1361.4,1074 1361.8,1056 1362.2,1047 1362.6,1133 1363.1,1036 1363.5,1133 1363.9,1051 1364.4,1087 1364.8,1051 1365.2,1133 1365.7,1051 1366.1,1133 1366.5,1057 1367.0,1133 1367.4,1051 1367.8,1093 1368.2,1062 1368.7,1066 1369.1,1128 1369.5,1215 1370.0,1215 1370.4,1051 1370.8,1018 1371.3,1112 1371.7,1092 1372.1,1090 1372.6,1139 1373.0,1097 1373.4,1057 1373.9,1071 1374.3,1018 1374.7,1238 1375.1,1037 1375.6,1143 1376.0,1075 1376.4,1118 1376.9,1119 1377.3,1018 1377.7,1069 1378.2,1089 1378.6,1092 1379.0,1097 1379.5,1062 1379.9,1088 1380.3,1062 1380.8,1062 1381.2,1063 1381.6,1062 1382.0,1062 1382.5,1062 1382.9,1062 1383.3,1123 1383.8,1132 1384.2,1191 1384.6,1124 1385.1,1075 1385.5,1046 1385.9,1262 1386.4,1107 1386.8,1066 1387.2,1097 1387.7,1123 1388.1,1066 1388.5,1109 1388.9,1076 1389.4,1117 1389.8,1066 1390.2,1135 1390.7,1183 1391.1,1066 1391.5,1079 1392.0,1066 1392.4,1253 1392.8,1066 1393.3,1011 1393.7,1032 1394.1,1032 1394.6,1041 1395.0,1105 1395.4,1060 1395.8,1032 1396.3,1052 1396.7,1058 1397.1,1216 1397.6,1315 1398.0,1062 1398.4,1083 1398.9,1079 1399.3,1130 1399.7,1107 1400.2,1032 1400.6,1097 1401.0,1032 1401.4,1137 1401.9,1009 1402.3,1061 1402.7,1055 1403.2,1055 1403.6,1055 1404.0,1055 1404.5,1186 1404.9,1171 1405.3,1272 1405.8,1129 1406.2,1055 1406.6,1073 1407.1,1055 1407.5,1066 1407.9,1071 1408.3,1132 1408.8,1055 1409.2,1055 1409.6,1055 1410.1,1055 1410.5,1092 1410.9,1088 1411.4,1082 1411.8,1221 1412.2,1077 1412.7,1063 1413.1,1067 1413.5,1134 1414.0,1025 1414.4,1166 1414.8,1126 1415.2,1092 1415.7,1037 1416.1,1117 1416.5,1037 1417.0,1166 1417.4,1054 1417.8,1108 1418.3,1025 1418.7,1060 1419.1,1146 1419.6,1040 1420.0,1082 1420.4,1002 1420.9,1054 1421.3,1017 1421.7,1023 1422.1,1058 1422.6,1045 1423.0,1146 1423.4,1042 1423.9,1049 1424.3,1017 1424.7,1047 1425.2,1064 1425.6,1044 1426.0,1065 1426.5,1017 1426.9,1288 1427.3,1079 1427.7,1161 1428.2,1197 1428.6,1096 1429.0,1084 1429.5,1071 1429.9,1178 1430.3,1072 1430.8,1041 1431.2,1047 1431.6,1053 1432.1,1076 1432.5,1041 1432.9,1166 1433.4,1234 1433.8,1052 1434.2,1095 1434.6,1079 1435.1,1142 1435.5,1209 1435.9,1101 1436.4,1101 1436.8,1075 1437.2,981 1437.7,1027 1438.1,1144 1438.5,1037 1439.0,1073 1439.4,1123 1439.8,1029 1440.3,1071 1440.7,1163 1441.1,1031 1441.5,1113 1442.0,1069 1442.4,1056 1442.8,1048 1443.3,1293 1443.7,1036 1444.1,1000 1444.6,1131 1445.0,1071 1445.4,1079 1445.9,1148 1446.3,1087 1446.7,1044 1447.2,1085 1447.6,1093 1448.0,1081 1448.4,1070 1448.9,1045 1449.3,1216 1449.7,1109 1450.2,1114 1450.6,1105 1451.0,1031 1451.5,1025 1451.9,1100 1452.3,971 1452.8,1073 1453.2,1018 1453.6,1069 1454.0,1024 1454.5,1071 1454.9,1099 1455.3,1034 1455.8,1101 1456.2,1042 1456.6,1239 1457.1,1103 1457.5,1081 1457.9,1024 1458.4,1108 1458.8,1168 1459.2,1024 1459.7,1154 1460.1,1121 1460.5,1081 1460.9,1044 1461.4,1018 1461.8,1132 1462.2,1121 1462.7,993 1463.1,1070 1463.5,1037 1464.0,1097 1464.4,1362 1464.8,1037 1465.3,1127 1465.7,1114 1466.1,1096 1466.6,1101 1467.0,1137 1467.4,1109 1467.8,1135 1468.3,1074 1468.7,1054 1469.1,1076 1469.6,1037 1470.0,1243 1470.4,1052 1470.9,1134 1471.3,1080 1471.7,1037 1472.2,1037 1472.6,1084 1473.0,1115 1473.5,1139 1473.9,1197 1474.3,1120 1474.7,968 1475.2,1078 1475.6,1286 1476.0,1084 1476.5,1086 1476.9,1039 1477.3,1021 1477.8,1021 1478.2,1080 1478.6,1033 1479.1,1063 1479.5,1161 1479.9,1021 1480.3,1065 1480.8,1056 1481.2,1060 1481.6,1080 1482.1,1067 1482.5,1181 1482.9,1053 1483.4,1144 1483.8,1081 1484.2,1102 1484.7,1080 1485.1,1093 1485.5,1152 1486.0,1042 1486.4,1075 1486.8,1038 1487.2,1152 1487.7,904 1488.1,1150 1488.5,1035 1489.0,1077 1489.4,1173 1489.8,1131 1490.3,1048 1490.7,1131 1491.1,1035 1491.6,1077 1492.0,1035 1492.4,1061 1492.9,1066 1493.3,1131 1493.7,1035 1494.1,1047 1494.6,1064 1495.0,1055 1495.4,1035 1495.9,1054 1496.3,1061 1496.7,1075 1497.2,1084 1497.6,1052 1498.0,1037 1498.5,1050 1498.9,1131 1499.3,1116 1499.8,1064 1500.2,1021 1500.6,1203 1501.0,1021 1501.5,1026 1501.9,1065 1502.3,1051 1502.8,1034 1503.2,1143 1503.6,1105 1504.1,1172 1504.5,1063 1504.9,1021 1505.4,1172 1505.8,1150 1506.2,1020 1506.6,1044 1507.1,1096 1507.5,1129 1507.9,1096 1508.4,1116 1508.8,1117 1509.2,1251 1509.7,1057 1510.1,1117 1510.5,1072 1511.0,1194 1511.4,1037 1511.8,1160 1512.3,1071 1512.7,1037 1513.1,1104 1513.5,1110 1514.0,1049 1514.4,1083 1514.8,1114 1515.3,1069 1515.7,1037 1516.1,1057 1516.6,1032 1517.0,1214 1517.4,1045 1517.9,1129 1518.3,1059 1518.7,1078 1519.2,1058 1519.6,1146 1520.0,1121 1520.4,1099 1520.9,1045 1521.3,1094 1521.7,1101 1522.2,1048 1522.6,1146 1523.0,1104 1523.5,1072 1523.9,1100 1524.3,939 1524.8,1066 1525.2,1145 1525.6,1148 1526.1,1058 1526.5,1089 1526.9,1142 1527.3,1169 1527.8,1204 1528.2,1058 1528.6,1127 1529.1,1058 1529.5,1204 1529.9,1066 1530.4,1058 1530.8,1074 1531.2,1115 1531.7,1105 1532.1,1071 1532.5,1058 1533.0,1089 1533.4,1100 1533.8,1092 1534.2,1058 1534.7,1245 1535.1,1136 1535.5,1031 1536.0,1151 1536.4,1035 1536.8,1063 1537.3,1031 1537.7,1104 1538.1,1033 1538.6,1168 1539.0,1043 1539.4,1103 1539.8,1083 1540.3,1041 1540.7,1062 1541.1,1084 1541.6,1259 1542.0,1047 1542.4,1001 1542.9,1118 1543.3,1093 1543.7,1054 1544.2,1168 1544.6,1104 1545.0,1054 1545.5,1064 1545.9,1086 1546.3,1140 1546.7,1168 1547.2,1091 1547.6,1055 1548.0,1113 1548.5,1168 1548.9,1063 1549.3,1084 1549.8,1036 1550.2,1108 1550.6,1061 1551.1,1096 1551.5,1146 1551.9,1061 1552.4,1079 1552.8,1061 1553.2,1146 1553.6,1128 1554.1,1080 1554.5,1061 1554.9,1146 1555.4,1073 1555.8,1061 1556.2,1345 1556.7,1085 1557.1,1061 1557.5,1073 1558.0,1061 1558.4,1061 1558.8,1061 1559.3,1037 1559.7,1072 1560.1,1125 1560.5,1102 1561.0,1058 1561.4,1058 1561.8,1103 1562.3,1058 1562.7,1073 1563.1,1058 1563.6,1097 1564.0,1255 1564.4,1127 1564.9,1078 1565.3,1159 1565.7,1058 1566.1,1118 1566.6,1062 1567.0,1077 1567.4,1014 1567.9,1024 1568.3,1034 1568.7,1049 1569.2,1153 1569.6,1083 1570.0,1060 1570.5,1159 1570.9,1054 1571.3,1039 1571.8,1024 1572.2,1078 1572.6,1159 1573.0,1193 1573.5,1024 1573.9,1143 1574.3,1063 1574.8,1059 1575.2,1085 1575.6,1043 1576.1,1151 1576.5,1063 1576.9,1094 1577.4,1032 1577.8,1092 1578.2,1131 1578.7,1100 1579.1,989 1579.5,1151 1579.9,1050 1580.4,1060 1580.8,1105 1581.2,1065 1581.7,1050 1582.1,1065 1582.5,1091 1583.0,1056 1583.4,1050 1583.8,1055 1584.3,1126 1584.7,1151 1585.1,1105 1585.6,1227 1586.0,1050 1586.4,1159 1586.8,1032 1587.3,1159 1587.7,1105 1588.1,1091 1588.6,1032 1589.0,1032 1589.4,1159 1589.9,1129 1590.3,1085 1590.7,1113 1591.2,1014 1591.6,1159 1592.0,1103 1592.4,1066 1592.9,1057 1593.3,1032 1593.7,1027 1594.2,1089 1594.6,1046 1595.0,1014 1595.5,1074 1595.9,1050 1596.3,1079 1596.8,1094 1597.2,990 1597.6,1137 1598.1,1103 1598.5,1098 1598.9,1069 1599.3,1159 1599.8,1052 1600.2,1045 1600.6,1069 1601.1,1077 1601.5,1064 1601.9,1053 1602.4,1039 1602.8,1117 1603.2,1039 1603.7,1127 1604.1,1039 1604.5,1041 1605.0,1121 1605.4,1039 1605.8,1098 1606.2,1099 1606.7,1039 1607.1,1046 1607.5,1127 1608.0,1039 1608.4,1126 1608.8,1030 1609.3,1054 1609.7,1054 1610.1,1158 1610.6,1054 1611.0,1055 1611.4,1117 1611.9,1054 1612.3,1070 1612.7,1104 1613.1,1087 1613.6,1130 1614.0,1069 1614.4,1070 1614.9,1139 1615.3,1089 1615.7,1191 1616.2,1054 1616.6,1129 1617.0,1026 1617.5,1061 1617.9,1065 1618.3,1096 1618.7,1118 1619.2,1165 1619.6,1127 1620.0,1039 1620.5,1111 1620.9,1074 1621.3,1108 1621.8,1165 1622.2,1003 1622.6,1027 1623.1,1091 1623.5,1252 1623.9,1069 1624.4,1098 1624.8,1120 1625.2,1094 1625.6,1027 1626.1,1145 1626.5,1149 1626.9,1047 1627.4,1131 1627.8,1149 1628.2,1118 1628.7,1028 1629.1,1027 1629.5,1027 1630.0,1012 1630.4,1024 1630.8,1182 1631.3,1080 1631.7,1072 1632.1,1085 1632.5,1018 1633.0,1047 1633.4,1081 1633.8,1050 1634.3,1241 1634.7,1156 1635.1,1104 1635.6,1103 1636.0,1018 1636.4,1039 1636.9,1107 1637.3,1039 1637.7,1176 1638.2,1102 1638.6,1128 1639.0,1075 1639.4,1039 1639.9,1042 1640.3,1233 1640.7,1117 1641.2,1044 1641.6,1111 1642.0,1039 1642.5,1063 1642.9,1054 1643.3,1052 1643.8,1069 1644.2,1132 1644.6,1039 1645.0,1070 1645.5,959 1645.9,1173 1646.3,1133 1646.8,1070 1647.2,1173 1647.6,1097 1648.1,1047 1648.5,1155 1648.9,1155 1649.4,1055 1649.8,997 1650.2,1105 1650.7,1101 1651.1,1101 1651.5,1068 1651.9,990 1652.4,1097 1652.8,1045 1653.2,1155 1653.7,1030 1654.1,1049 1654.5,1261 1655.0,1035 1655.4,1042 1655.8,1109 1656.3,1043 1656.7,1066 1657.1,1099 1657.6,1039 1658.0,1079 1658.4,1002 1658.8,1002 1659.3,1029 1659.7,1162 1660.1,1068 1660.6,1028 1661.0,1066 1661.4,1077 1661.9,1028 1662.3,1054 1662.7,1055 1663.2,1028 1663.6,1062 1664.0,1112 1664.5,1057 1664.9,1062 1665.3,1050 1665.7,1028 1666.2,1049 1666.6,1028 1667.0,1042 1667.5,1028 1667.9,1087 1668.3,1112 1668.8,1072 1669.2,1028 1669.6,963 1670.1,1057 1670.5,1091 1670.9,1112 1671.4,1112 1671.8,1089 1672.2,1078 1672.6,1000 1673.1,1070 1673.5,1068 1673.9,1083 1674.4,1112 1674.8,1110 1675.2,1165 1675.7,1053 1676.1,999 1676.5,1080 1677.0,1055 1677.4,1041 1677.8,1046 1678.2,1151 1678.7,1172 1679.1,1047 1679.5,1057 1680.0,1144 1680.4,1015 1680.8,1056 1681.3,1131 1681.7,1067 1682.1,981 1682.6,1172 1683.0,1052 1683.4,1049 1683.9,1076 1684.3,1142 1684.7,1299 1685.1,1159 1685.6,1122 1686.0,1181 1686.4,1058 1686.9,1044 1687.3,1076 1687.7,1058 1688.2,1142 1688.6,1034 1689.0,1034 1689.5,1151 1689.9,1074 1690.3,1083 1690.8,1034 1691.2,1047 1691.6,1163 1692.0,1060 1692.5,1190 1692.9,1232 1693.3,1036 1693.8,1131 1694.2,883 1694.6,1091 1695.1,1137 1695.5,1028 1695.9,1051 1696.4,1114 1696.8,1128 1697.2,1098 1697.7,1052 1698.1,1022 1698.5,1076 1698.9,1137 1699.4,1137 1699.8,1118 1700.2,1012 1700.7,1137 1701.1,1069 1701.5,1137 1702.0,1162 1702.4,1058 1702.8,1056 1703.3,1133 1703.7,1133 1704.1,1121 1704.5,1116 1705.0,1098 1705.4,1043 1705.8,1133 1706.3,1121 1706.7,879 1707.1,1044 1707.6,1045 1708.0,1133 1708.4,1074 1708.9,1060 1709.3,1087 1709.7,1033 1710.2,1133 1710.6,1071 1711.0,1052 1711.4,1024 1711.9,1133 1712.3,1051 1712.7,1101 1713.2,1024 1713.6,1320 1714.0,1044 1714.5,1138 1714.9,1032 1715.3,1093 1715.8,1040 1716.2,1109 1716.6,1147 1717.1,1100 1717.5,1057 1717.9,1032 1718.3,1078 1718.8,1102 1719.2,1032 1719.6,1049 1720.1,1032 1720.5,1059 1720.9,1116 1721.4,1078 1721.8,1092 1722.2,1118 1722.7,1167 1723.1,1122 1723.5,1041 1724.0,1046 1724.4,1263 1724.8,1037 1725.2,1140 1725.7,1049 1726.1,1046 1726.5,1180 1727.0,1037 1727.4,1044 1727.8,1083 1728.3,1079 1728.7,1068 1729.1,1081 1729.6,1189 1730.0,1087 1730.4,1224 1730.8,1074 1731.3,1118 1731.7,1037 1732.1,1088 1732.6,1132 1733.0,1034 1733.4,1135 1733.9,1063 1734.3,1056 1734.7,1130 1735.2,1105 1735.6,1334 1736.0,1123 1736.5,1051 1736.9,1051 1737.3,1135 1737.7,1067 1738.2,1069 1738.6,1095 1739.0,1059 1739.5,1087 1739.9,1085 1740.3,1092 1740.8,1069 1741.2,1139 1741.6,1018 1742.1,1139 1742.5,1122 1742.9,1066 1743.4,1122 1743.8,1066 1744.2,1116 1744.6,1066 1745.1,1066 1745.5,1171 1745.9,1066 1746.4,1066 1746.8,1127 1747.2,1095 1747.7,1131 1748.1,1122 1748.5,1075 1749.0,1078 1749.4,1084 1749.8,1128 1750.3,1074 1750.7,1066 1751.1,1098 1751.5,1066 1752.0,1121 1752.4,1050 1752.8,1069 1753.3,1050 1753.7,1135 1754.1,1059 1754.6,1089 1755.0,1096 1755.4,1102 1755.9,1205 1756.3,1116 1756.7,1062 1757.1,1205 1757.6,1050 1758.0,1050 1758.4,1033 1758.9,1076 1759.3,1098 1759.7,1087 1760.2,1252 1760.6,1077 1761.0,1033 1761.5,1103 1761.9,1033 1762.3,1107 1762.8,1144 1763.2,1150 1763.6,1015 1764.0,1022 1764.5,1041 1764.9,1049 1765.3,1157 1765.8,1124 1766.2,1097 1766.6,1058 1767.1,1138 1767.5,1074 1767.9,1096 1768.4,1046 1768.8,1060 1769.2,979 1769.7,1106 1770.1,1040 1770.5,1027 1770.9,1077 1771.4,1037 1771.8,1126 1772.2,1091 1772.7,1060 1773.1,1142 1773.5,1189 1774.0,1033 1774.4,1126 1774.8,1159 1775.3,1060 1775.7,1020 1776.1,1118 1776.6,1103 1777.0,1100 1777.4,1159 1777.8,1048 1778.3,1125 1778.7,1045 1779.1,1060 1779.6,1159 1780.0,1048 1780.4,1144 1780.9,1059 1781.3,1159 1781.7,1068 1782.2,1085 1782.6,1243 1783.0,1048 1783.4,1049 1783.9,1197 1784.3,1009 1784.7,1030 1785.2,1086 1785.6,1038 1786.0,1072 1786.5,1044 1786.9,1177 1787.3,1078 1787.8,1047 1788.2,1089 1788.6,1052 1789.1,1036 1789.5,1039 1789.9,1127 1790.3,1030 1790.8,1252 1791.2,1132 1791.6,1042 1792.1,1116 1792.5,1102 1792.9,1089 1793.4,1077 1793.8,1135 1794.2,990 1794.7,1038 1795.1,1107 1795.5,1016 1796.0,1149 1796.4,1149 1796.8,1045 1797.2,1119 1797.7,1126 1798.1,1149 1798.5,1102 1799.0,1149 1799.4,1061 1799.8,1016 1800.3,1086 1800.7,1028 1801.1,1070 1801.6,1102 1802.0,1149 1802.4,1016 1802.9,1149 1803.3,1196 1803.7,1096 1804.1,1045 1804.6,975 1805.0,1017 1805.4,1013 1805.9,1050 1806.3,1081 1806.7,1074 1807.2,1021 1807.6,1049 1808.0,1048 1808.5,1016 1808.9,1096 1809.3,1037 1809.8,1047 1810.2,1186 1810.6,1047 1811.0,1144 1811.5,1144 1811.9,1030 1812.3,1006 1812.8,1087 1813.2,1093 1813.6,1122 1814.1,1017 1814.5,1115 1814.9,1060 1815.4,1039 1815.8,1084 1816.2,1011 1816.6,958 1817.1,1044 1817.5,1125 1817.9,1080 1818.4,1054 1818.8,1116 1819.2,1036 1819.7,1031 1820.1,1109 1820.5,1172 1821.0,1172 1821.4,1091 1821.8,1066 1822.3,1139 1822.7,1031 1823.1,1031 1823.5,1077 1824.0,1172 1824.4,1108 1824.8,1040 1825.3,1090 1825.7,1032 1826.1,1038 1826.6,1238 1827.0,1140 1827.4,1039 1827.9,1031 1828.3,1118 1828.7,1175 1829.2,1034 1829.6,1028 1830.0,1115 1830.4,1135 1830.9,1078 1831.3,1054 1831.7,1137 1832.2,1054 1832.6,1116 1833.0,1067 1833.5,1085 1833.9,1070 1834.3,1147 1834.8,1210 1835.2,1054 1835.6,1078 1836.1,1091 1836.5,1054 1836.9,1137 1837.3,1178 1837.8,1037 1838.2,1072 1838.6,1062 1839.1,1184 1839.5,1037 1839.9,1058 1840.4,1156 1840.8,1058 1841.2,1037 1841.7,1115 1842.1,1037 1842.5,1037 1842.9,1037 1843.4,1080 1843.8,1085 1844.2,1024 1844.7,1306 1845.1,1142 1845.5,1074 1846.0,1072 1846.4,1024 1846.8,1024 1847.3,1080 1847.7,1022 1848.1,1053 1848.6,1073 1849.0,1110 1849.4,1139 1849.8,1215 1850.3,1086 1850.7,1113 1851.1,1100 1851.6,1200 1852.0,1071 1852.4,1174 1852.9,1158 1853.3,1045 1853.7,1157 1854.2,1054 1854.6,1006 1855.0,1118 1855.5,1069 1855.9,1075 1856.3,1024 1856.7,1024 1857.2,1083 1857.6,1247 1858.0,1067 1858.5,1156 1858.9,1075 1859.3,1161 1859.8,1112 1860.2,1046 1860.6,1045 1861.1,1081 1861.5,1024 1861.9,1142 1862.4,1105 1862.8,1067 1863.2,1085 1863.6,995 1864.1,1167 1864.5,1051 1864.9,1138 1865.4,1113 1865.8,1133 1866.2,1051 1866.7,1204 1867.1,1032 1867.5,1095 1868.0,1121 1868.4,1373 1868.8,1079 1869.2,1121 1869.7,1046 1870.1,1047 1870.5,1062 1871.0,1032 1871.4,1051 1871.8,1139 1872.3,1114 1872.7,1081 1873.1,1106 1873.6,1092 1874.0,1081 1874.4,1043 1874.9,1073 1875.3,1035 1875.7,1065 1876.1,1173 1876.6,1199 1877.0,1143 1877.4,1092 1877.9,1182 1878.3,1075 1878.7,1000 1879.2,1110 1879.6,1044 1880.0,1142 1880.5,1044 1880.9,1044 1881.3,1142 1881.8,1160 1882.2,1180 1882.6,1068 1883.0,1117 1883.5,1044 1883.9,1155 1884.3,1287 1884.8,1095 1885.2,1154 1885.6,1049 1886.1,1067 1886.5,1027 1886.9,1098 1887.4,1142 1887.8,1147 1888.2,1069 1888.7,1073 1889.1,1127 1889.5,1108 1889.9,1027 1890.4,1099 1890.8,1080 1891.2,1139 1891.7,1010 1892.1,1064 1892.5,1119 1893.0,1048 1893.4,1173 1893.8,1096 1894.3,1060 1894.7,1055 1895.1,1100 1895.5,1050 1896.0,1070 1896.4,1039 1896.8,1046 1897.3,1038 1897.7,1114 1898.1,1143 1898.6,1143 1899.0,1102 1899.4,1090 1899.9,1114 1900.3,1302 1900.7,1088 1901.2,1106 1901.6,1187 1902.0,1036 1902.4,964 1902.9,1135 1903.3,1102 1903.7,1069 1904.2,1163 1904.6,1076 1905.0,1049 1905.5,1138 1905.9,1077 1906.3,1026 1906.8,1053 1907.2,1085 1907.6,1187 1908.1,1025 1908.5,1025 1908.9,1043 1909.3,1216 1909.8,1068 1910.2,1040 1910.6,1074 1911.1,1025 1911.5,1066 1911.9,1216 1912.4,1108 1912.8,1025 1913.2,1025 1913.7,1025 1914.1,1127 1914.5,941 1915.0,1065 1915.4,1319 1915.8,1047 1916.2,1079 1916.7,1050 1917.1,1064 1917.5,1097 1918.0,1047 1918.4,1118 1918.8,1077 1919.3,1089 1919.7,1051 1920.1,1053 1920.6,1084 1921.0,1102 1921.4,1047 1921.8,1191 1922.3,1086 1922.7,1191 1923.1,1099 1923.6,1064 1924.0,1064 1924.4,1090 1924.9,1064 1925.3,1212 1925.7,1064 1926.2,1107 1926.6,1064 1927.0,1064 1927.5,1064 1927.9,1082 1928.3,1113 1928.7,1108 1929.2,1022 1929.6,1077 1930.0,1084 1930.5,1050 1930.9,1117 1931.3,1151 1931.8,1136 1932.2,1063 1932.6,1177 1933.1,1105 1933.5,1136 1933.9,1177 1934.4,1050 1934.8,1097 1935.2,1050 1935.6,1080 1936.1,1050 1936.5,1146 1936.9,1317 1937.4,1117 1937.8,1050 1938.2,1118 1938.7,1071 1939.1,1131 1939.5,1005 1940.0,1027 1940.4,1045 1940.8,1042 1941.3,1027 1941.7,1336 1942.1,1110 1942.5,1110 1943.0,1090 1943.4,1027 1943.8,1110 1944.3,1049 1944.7,1110 1945.1,1110 1945.6,1110 1946.0,1085 1946.4,1027 1946.9,1032 1947.3,1105 1947.7,1027 1948.1,1110 1948.6,1110 1949.0,1081 1949.4,982 1949.9,1032 1950.3,1110 1950.7,1032 1951.2,1110 1951.6,1042 1952.0,1110 1952.5,1032 1952.9,1037 1953.3,1068 1953.8,1036 1954.2,1041 1954.6,1033 1955.0,1056 1955.5,1032 1955.9,1068 1956.3,1054 1956.8,1149 1957.2,1032 1957.6,1149 1958.1,1049 1958.5,1016 1958.9,1057 1959.4,1134 1959.8,1100 1960.2,1055 1960.7,1090 1961.1,1058 1961.5,1060 1961.9,1149 1962.4,1054 1962.8,1111 1963.2,1088 1963.7,1297 1964.1,1095 1964.5,1114 1965.0,1138 1965.4,1063 1965.8,1006 1966.3,1130 1966.7,1065 1967.1,1149 1967.6,1060 1968.0,1108 1968.4,1098 1968.8,1057 1969.3,1083 1969.7,1085 1970.1,1107 1970.6,1039 1971.0,1107 1971.4,1011 1971.9,1185 1972.3,1023 1972.7,1011 1973.2,1226 1973.6,1086 1974.0,1158 1974.5,1090 1974.9,1031 1975.3,1066 1975.7,1146 1976.2,1011 1976.6,997 1977.0,1175 1977.5,1097 1977.9,1144 1978.3,1054 1978.8,1093 1979.2,1078 1979.6,1054 1980.1,1070 1980.5,1195 1980.9,1175 1981.3,1135 1981.8,1241 1982.2,1064 1982.6,1098 1983.1,1105 1983.5,1172 1983.9,1178 1984.4,1061 1984.8,1054 1985.2,1078 1985.7,1055 1986.1,1085 1986.5,1189 1987.0,1206 1987.4,1033 1987.8,1052 1988.2,1052 1988.7,1106 1989.1,1052 1989.5,1052 1990.0,1242 1990.4,1052 1990.8,1052 1991.3,1128 1991.7,1052 1992.1,1090 1992.6,1052 1993.0,1052 1993.4,1052 1993.9,1052 1994.3,1052 1994.7,1154 1995.1,1034 1995.6,1089 1996.0,1051 1996.4,1269 1996.9,1036 1997.3,1134 1997.7,1056 1998.2,1071 1998.6,1134 1999.0,1081 1999.5,1044 1999.9,1134 2000.3,1034 2000.8,1134 2001.2,985 2001.6,1097 2002.0,1044 2002.5,1044 2002.9,1033 2003.3,1133 2003.8,1124 2004.2,1127 2004.6,1126 2005.1,1088 2005.5,1033 2005.9,1056 2006.4,1160 2006.8,1033 2007.2,1070 2007.6,1135 2008.1,1033 2008.5,1071 2008.9,1130 2009.4,1113 2009.8,1096 2010.2,1066 2010.7,1033 2011.1,1135 2011.5,1033 2012.0,1087 2012.4,1106 2012.8,1109 2013.3,1003 2013.7,1089 2014.1,1092 2014.5,1040 2015.0,1101 2015.4,1119 2015.8,1040 2016.3,1044 2016.7,1158 2017.1,1071 2017.6,1063 2018.0,1143 2018.4,1102 2018.9,1133 2019.3,1040 2019.7,1076 2020.2,1158 2020.6,1083 2021.0,1081 2021.4,1066 2021.9,1040 2022.3,1158 2022.7,1226 2023.2,1058 2023.6,1088 2024.0,1133 2024.5,980 2024.9,1131 2025.3,1030 2025.8,1094 2026.2,1069 2026.6,1069 2027.1,1047 2027.5,1080 2027.9,1094 2028.3,1052 2028.8,1103 2029.2,1030 2029.6,1030 2030.1,1031 2030.5,1135"/>
<rect x="1328" y="84" width="627" height="551" fill="#fff" stroke="#000" stroke-width="2" shape-rendering="crispEdges"/>
<g filter="url(#bin)">
<text class="b" style="font-size:89px" transform="translate(1341.6,174.0) scale(1,1.015)" xml:space="preserve">Fs = 200MHz</text>
<text class="b" style="font-size:89px" transform="translate(1341.6,282.0) scale(1,1.015)" xml:space="preserve">Fin= 6.2MHz</text>
<text class="b" style="font-size:89px" transform="translate(1341.6,390.0) scale(1,1.015)" xml:space="preserve">SNDR = 56.3dB</text>
<text class="b" style="font-size:89px" transform="translate(1341.6,498.0) scale(1,1.015)" xml:space="preserve">SFDR = 69.2dB</text>
<text class="b" style="font-size:89px" transform="translate(1341.6,606.0) scale(1,1.015)" xml:space="preserve">ENOB = 9.06</text>
<text class="b" transform="translate(1115.8,1586.7) scale(1,1.015)" text-anchor="middle">Frequency(MHz)</text>
<text class="b" transform="translate(96.7,720.1) rotate(-90) scale(1,1.015)" text-anchor="middle">Power Spectral(dB)</text>
<text class="t" transform="translate(0,1496.0) scale(1,1.035)" x="246.5">0</text>
<text class="t" transform="translate(0,1496.0) scale(1,1.035)" x="581.7 617.7">20</text>
<text class="t" transform="translate(0,1496.0) scale(1,1.035)" x="934.9 970.9">40</text>
<text class="t" transform="translate(0,1496.0) scale(1,1.035)" x="1288.1 1324.1">60</text>
<text class="t" transform="translate(0,1496.0) scale(1,1.035)" x="1641.3 1677.3">80</text>
<text class="t" transform="translate(0,1496.0) scale(1,1.035)" x="1976.5 2012.5 2048.5">100</text>
<text class="t" transform="translate(0,163.4) scale(1,1.035)" x="201.5">0</text>
<text class="t" transform="translate(0,367.0) scale(1,1.035)" x="127.2 165.5 201.5" dy="-1.1 1.1 0.0">−20</text>
<text class="t" transform="translate(0,570.7) scale(1,1.035)" x="127.2 165.5 201.5" dy="-1.1 1.1 0.0">−40</text>
<text class="t" transform="translate(0,774.4) scale(1,1.035)" x="127.2 165.5 201.5" dy="-1.1 1.1 0.0">−60</text>
<text class="t" transform="translate(0,978.0) scale(1,1.035)" x="127.2 165.5 201.5" dy="-1.1 1.1 0.0">−80</text>
<text class="t" transform="translate(0,1181.7) scale(1,1.035)" x="91.2 129.5 165.5 201.5" dy="-1.1 1.1 0.0 0.0">−100</text>
<text class="t" transform="translate(0,1385.4) scale(1,1.035)" x="91.2 129.5 165.5 201.5" dy="-1.1 1.1 0.0 0.0">−120</text>
</g>
</svg></body></html>
